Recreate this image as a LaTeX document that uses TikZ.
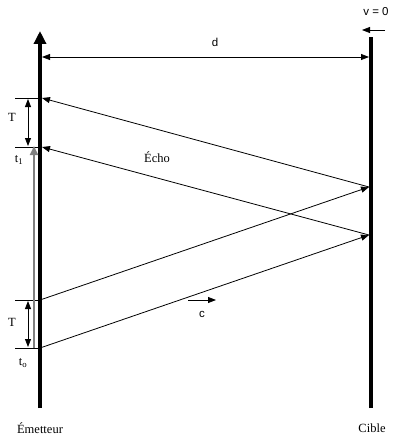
\documentclass[tikz,border=0pt]{standalone}
\usepackage{fontspec}
\setmainfont{Liberation Serif}
\newfontfamily\sansf{Liberation Sans}
\usetikzlibrary{arrows.meta}
\begin{document}
\begin{tikzpicture}[x=1pt,y=-1pt,
  thin/.style={line width=0.8pt},
  tip/.style={-{Triangle[length=8pt,width=6pt]}},
  dtip/.style={{Triangle[length=8pt,width=6pt]}-{Triangle[length=8pt,width=6pt]}},
  axisline/.style={line width=3.5pt},
  lbl/.style={font=\fontsize{12.5}{14}\selectfont, inner sep=0pt},
  slbl/.style={font=\sansf\fontsize{11.5}{13}\selectfont, inner sep=0pt}]
\useasboundingbox (0,0) rectangle (409,444);
% axes
\coordinate (Ebot) at (40,408);
\coordinate (Etop) at (40,31);
\coordinate (Cbot) at (371,408);
\coordinate (Ctop) at (371,37);
\draw[axisline,-{Triangle[length=13pt,width=12pt]}] (Ebot) -- (Etop);
\draw[axisline] (Cbot) -- (Ctop);
% d
\coordinate (dL) at (42,57);
\coordinate (dR) at (369,57);
\draw[thin,dtip] (dL) -- (dR);
\node[slbl] (d) at (215,42) {d};
% v=0
\node[slbl] (v) at (376,12) {v = 0};
\coordinate (vR) at (385,30);
\coordinate (vL) at (362,30);
\draw[thin,tip] (vR) -- (vL);
% ticks
\coordinate (a1) at (40,98);  \coordinate (a1l) at (15,98);
\coordinate (a2) at (40,147); \coordinate (a2l) at (15,147);
\coordinate (a3) at (40,300); \coordinate (a3l) at (15,300);
\coordinate (a4) at (40,348); \coordinate (a4l) at (15,348);
\foreach \p in {1,2,3,4} \draw[thin] (a\p) -- (a\p l);
\coordinate (T1a) at (28,99); \coordinate (T1b) at (28,146);
\coordinate (T2a) at (28,301); \coordinate (T2b) at (28,347);
\draw[thin,dtip] (T1a) -- (T1b);
\draw[thin,dtip] (T2a) -- (T2b);
\node[lbl] (T1) at (12,117) {T};
\node[lbl] (T2) at (12,322) {T};
\node[lbl] (t1) at (19,160) {t\textsubscript{1}};
\node[lbl] (t0) at (23,363) {t\textsubscript{o}};
% gray arrow
\coordinate (g0) at (34,348);
\coordinate (g1) at (34,146);
\draw[line width=2pt,gray,-{Triangle[length=9pt,width=8pt]}] (g0) -- (g1);
% pulses
\coordinate (r1) at (369,187);
\coordinate (r2) at (369,235);
\coordinate (e1) at (42,98);
\coordinate (e2) at (42,147);
\draw[thin,tip] (a3) -- (r1);
\draw[thin,tip] (a4) -- (r2);
\draw[thin,tip] (r1) -- (e1);
\draw[thin,tip] (r2) -- (e2);
\node[lbl] (echo) at (157,157) {Écho};
% c
\coordinate (c0) at (188,300);
\coordinate (c1) at (216,300);
\draw[thin,tip] (c0) -- (c1);
\node[slbl] (c) at (202,314) {c};
% labels
\node[lbl] (em) at (40,428) {Émetteur};
\node[lbl] (ci) at (372,428) {Cible};
\end{tikzpicture}
\end{document}
